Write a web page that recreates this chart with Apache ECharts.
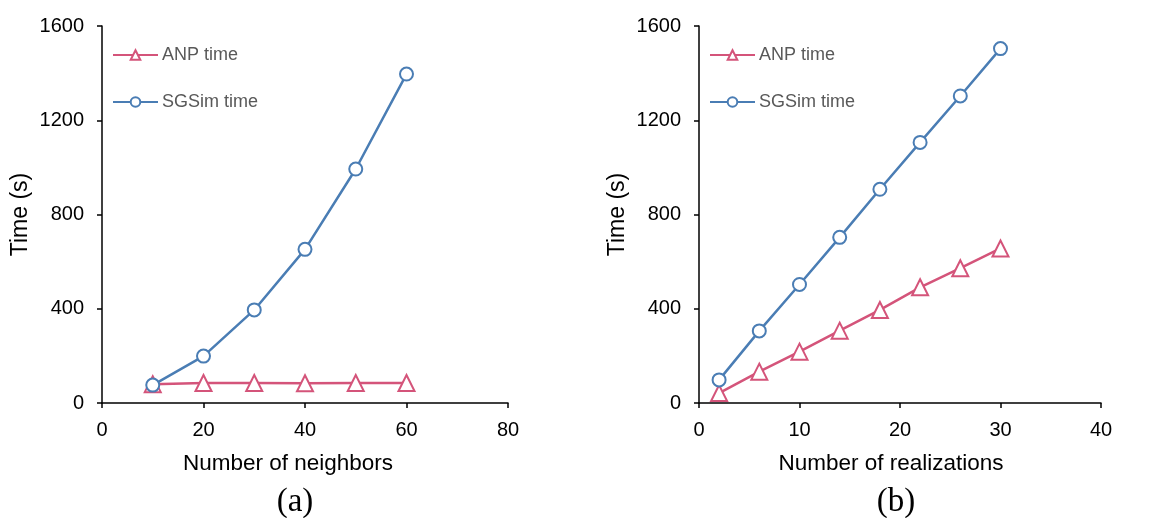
<!DOCTYPE html>
<html>
<head>
<meta charset="utf-8">
<script src="https://cdn.jsdelivr.net/npm/echarts@6/dist/echarts.min.js"></script>
<style>
  html, body { margin: 0; padding: 0; background: #fff; }
  #chart { width: 1156px; height: 518px; }
</style>
</head>
<body>
<div id="chart"></div>
<script>
  // (a) time vs number of neighbors
  const neighbors = [10, 20, 30, 40, 50, 60];
  const anpNeighbors = [80, 85, 85, 84, 85, 85];
  const sgsimNeighbors = [76, 199, 395, 652, 993, 1396];

  // (b) time vs number of realizations
  const realizations = [2, 6, 10, 14, 18, 22, 26, 30];
  const anpReal = [42, 133, 218, 307, 395, 491, 572, 656];
  const sgsimReal = [98, 306, 503, 703, 907, 1106, 1303, 1504];

  const yTicks = { min: 0, max: 1600, interval: 400 };

  const pink = '#d4547a';
  const blue = '#4a7db4';
  const font = 'Liberation Sans, Arial, sans-serif';
  const serif = 'Liberation Serif, Times New Roman, serif';

  function pairs(xs, ys) {
    return xs.map((x, i) => [x, ys[i]]);
  }

  // shift: how far the axis title sits left of the grid centre
  function xAxis(idx, max, interval, name, shift) {
    return {
      gridIndex: idx, type: 'value', min: 0, max: max, interval: interval,
      name: name, nameLocation: 'middle', nameGap: 49,
      nameTextStyle: { color: '#000', fontSize: 22.5, fontFamily: font, padding: [0, shift * 2, 0, 0] },
      axisLine: { lineStyle: { color: '#000', width: 1.5 } },
      axisTick: { show: true, length: 5, lineStyle: { color: '#000', width: 1.5 } },
      axisLabel: { color: '#000', fontSize: 20, fontFamily: font, margin: 17 },
      splitLine: { show: false }
    };
  }

  function yAxis(idx) {
    return {
      gridIndex: idx, type: 'value', min: yTicks.min, max: yTicks.max, interval: yTicks.interval,
      name: 'Time (s)', nameLocation: 'middle', nameGap: 70,
      nameTextStyle: { color: '#000', fontSize: 23, fontFamily: font },
      axisLine: { show: true, lineStyle: { color: '#000', width: 1.5 } },
      axisTick: { show: true, length: 5, lineStyle: { color: '#000', width: 1.5 } },
      axisLabel: { color: '#000', fontSize: 20, fontFamily: font, margin: 18, formatter: v => String(v) },
      splitLine: { show: false }
    };
  }

  function series(name, idx, data, color, symbol, size) {
    return {
      name: name, type: 'line', xAxisIndex: idx, yAxisIndex: idx,
      data: data, symbol: symbol, symbolSize: size, showSymbol: true,
      lineStyle: { color: color, width: 2.5 },
      itemStyle: { color: color, borderColor: color, borderWidth: 1.5 },
      animation: false
    };
  }

  function legend(left, names) {
    return {
      orient: 'vertical', left: left, top: 41, itemGap: 29,
      itemWidth: 45, itemHeight: 12,
      data: names,
      textStyle: { color: '#595959', fontSize: 18, fontFamily: font, padding: [0, 0, 0, -1] }
    };
  }

  const chart = echarts.init(document.getElementById('chart'));
  chart.setOption({
    animation: false,
    grid: [
      { left: 102, top: 26, width: 406, height: 377 },
      { left: 699, top: 26, width: 402, height: 377 }
    ],
    legend: [
      legend(107, [{ name: 'ANP time' }, { name: 'SGSim time' }]),
      legend(704, [{ name: 'ANP time ' }, { name: 'SGSim time ' }])
    ],
    xAxis: [
      xAxis(0, 80, 20, 'Number of neighbors', 17),
      xAxis(1, 40, 10, 'Number of realizations', 9)
    ],
    yAxis: [yAxis(0), yAxis(1)],
    series: [
      series('ANP time', 0, pairs(neighbors, anpNeighbors), pink, 'emptyTriangle', 16),
      series('SGSim time', 0, pairs(neighbors, sgsimNeighbors), blue, 'emptyCircle', 13),
      series('ANP time ', 1, pairs(realizations, anpReal), pink, 'emptyTriangle', 16),
      series('SGSim time ', 1, pairs(realizations, sgsimReal), blue, 'emptyCircle', 13)
    ],
    graphic: [
      { type: 'text', x: 295, y: 502, style: { text: '(a)', fontSize: 33, fontFamily: serif, fill: '#000', align: 'center', verticalAlign: 'middle' } },
      { type: 'text', x: 896, y: 502, style: { text: '(b)', fontSize: 33, fontFamily: serif, fill: '#000', align: 'center', verticalAlign: 'middle' } }
    ]
  });
</script>
</body>
</html>
